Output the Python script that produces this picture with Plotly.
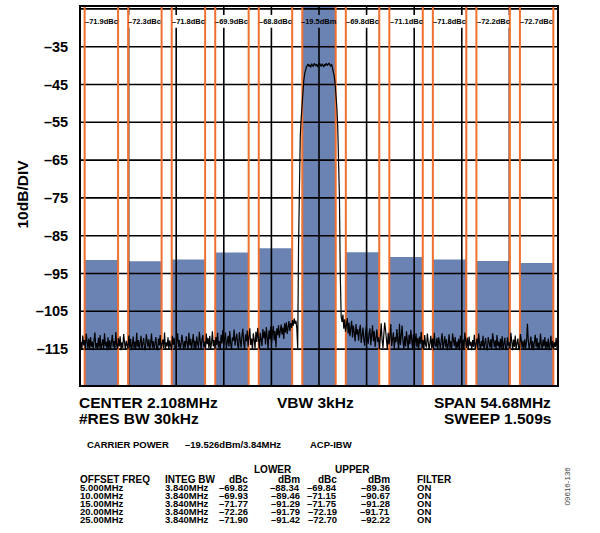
import numpy as np
import plotly.graph_objects as go

# ---------------- data ----------------
X_MIN, X_MAX = -27.34, 27.34          # offset from center 2.108 MHz, span 54.68 MHz
Y_MIN, Y_MAX = -124.5, -24.5          # dBm, 10 dB/div
X_DIV = 5.468

channel_offsets = [-25, -20, -15, -10, -5, 0, 5, 10, 15, 20, 25]
channel_bw = 3.84
channel_power_dbm = [-91.42, -91.79, -91.29, -89.46, -88.34, -19.526,
                     -89.36, -90.67, -91.28, -91.71, -92.22]
channel_labels = ["–71.9dBc", "–72.3dBc", "–71.8dBc", "–69.9dBc", "–68.8dBc", "–19.5dBm",
                  "–69.8dBc", "–71.1dBc", "–71.8dBc", "–72.2dBc", "–72.7dBc"]

y_tick_vals = [-35, -45, -55, -65, -75, -85, -95, -105, -115]
y_tick_text = ["–35", "–45", "–55", "–65", "–75", "–85", "–95", "–105", "–115"]
h_grid_vals = [-115, -105, -95, -85, -75, -65, -55, -45, -35, -25]

# spectrum trace (dBm), sweep points evenly spread over the span
trace_left = [
    -113.1, -115.2, -111.4, -114.0, -112.6, -115.3, -110.9, -113.8, -114.9, -112.2,
    -115.1, -111.8, -114.4, -113.0, -115.3, -112.5, -110.6, -114.7, -113.4, -115.0,
    -112.0, -114.6, -111.3, -115.2, -113.7, -112.4, -115.0, -110.8, -114.2, -113.1,
    -115.3, -111.9, -114.8, -112.7, -115.1, -113.5, -111.2, -114.5, -112.9, -115.2,
    -110.5, -113.9, -115.0, -112.1, -114.3, -111.6, -115.3, -113.2, -114.7, -111.0,
    -114.1, -115.2, -112.8, -113.6, -115.0, -111.4, -114.6, -112.3, -115.3, -113.9,
    -111.7, -114.9, -113.0, -115.1, -110.7, -114.4, -112.6, -115.2, -113.3, -111.5,
    -115.0, -113.8, -112.1, -114.8, -115.3, -111.1, -113.7, -114.5, -112.4, -115.1,
    -113.5, -110.9, -114.6, -112.9, -115.2, -113.0, -111.8, -114.9, -115.3, -112.2,
    -114.0, -111.3, -115.1, -113.6, -112.5, -114.7, -110.6, -115.0, -113.2, -114.3,
    -111.9, -115.2, -112.7, -114.1, -115.3, -111.5, -113.9, -112.0, -114.8, -115.1,
    -113.3, -110.8, -114.5, -112.6, -115.0, -113.8, -111.2, -114.2, -115.2, -112.9,
    -114.6, -111.6, -113.4, -115.1, -110.7, -114.0, -112.3, -115.2, -113.1, -111.0,
    -114.9, -112.8, -115.0, -111.7, -113.6, -114.7, -110.4, -113.2, -115.1, -112.4,
    -111.3, -114.5, -113.0, -115.2, -110.9, -113.7, -112.1, -114.8, -111.5, -115.0,
    -113.4, -110.3, -114.3, -112.6, -115.1, -111.8, -113.9, -110.7, -114.6, -112.9,
    -115.0, -111.2, -113.5, -109.9, -114.2, -112.4, -110.6, -114.9, -113.0, -111.5,
    -114.4, -110.2, -113.6, -115.0, -111.9, -112.8, -109.8, -114.1, -112.3, -110.9,
    -113.8, -115.1, -110.5, -112.7, -114.6, -111.4, -109.6, -113.3, -115.0, -111.1,
    -112.9, -110.1, -114.3, -111.7, -109.5, -113.9, -112.2, -115.2, -110.8, -112.5,
    -114.8, -110.4, -113.1, -109.4, -111.9, -115.1, -110.7, -112.6, -114.2, -109.7,
    -112.1, -110.3, -113.8, -109.2, -111.6, -114.9, -110.0, -112.4, -109.1, -113.5,
    -110.8, -108.9, -112.7, -110.2, -114.6, -109.5, -111.3, -108.7, -112.0, -110.4,
    -108.5, -111.1, -109.3, -112.3, -108.2, -110.6, -107.9, -111.0, -109.0, -107.6,
    -110.2, -108.1, -109.4, -107.3, -108.8, -106.9, -108.3, -107.5,
]
trace_carrier = [
    -109.5, -114.8, -88.0, -67.0, -58.5, -54.0, -50.0, -46.8, -44.0, -42.2,
    -41.0, -40.4, -40.0,
    -39.6, -40.2, -39.8, -40.5, -39.5, -39.9, -40.3, -39.4, -39.8, -40.1,
    -39.6, -40.4, -39.7, -39.3, -39.9, -40.2, -39.5, -39.8, -40.4, -39.6,
    -39.9, -39.4, -40.0, -39.7, -39.3, -39.8, -40.1, -39.6,
    -40.5, -41.3, -42.8, -44.8, -47.5, -51.0, -56.0, -63.0, -75.0, -96.0,
    -106.5,
]
trace_right = [
    -107.8, -105.9, -109.6, -107.1, -110.4, -108.3, -106.8, -110.9, -108.0, -111.6,
    -109.2, -107.5, -111.9, -108.8, -110.6, -113.0, -108.4, -111.2, -109.7, -112.8,
    -110.1, -108.6, -113.4, -111.0, -109.3, -112.5, -114.1, -110.5, -108.9, -112.2,
    -113.6, -110.8, -109.5, -114.0, -111.7, -108.7, -112.9, -110.2, -114.4, -111.3,
    -109.8, -113.1, -111.9, -115.0, -110.4, -108.2, -112.6, -114.7, -111.1, -108.0,
    -109.9, -112.3, -115.1, -110.7, -113.8, -111.5, -108.4, -114.2, -112.0, -110.6,
    -114.9, -111.8, -113.2, -109.7, -112.7, -115.2, -108.3, -113.9, -111.4, -108.8,
    -113.0, -115.0, -111.6, -114.3, -110.3, -112.9, -115.1, -111.2, -113.7, -109.9,
    -112.4, -114.8, -111.0, -115.3, -113.3, -110.8, -114.5, -112.1, -115.0, -111.7,
    -113.6, -110.5, -114.9, -112.6, -115.2, -111.3, -113.9, -114.6, -110.9, -112.8,
    -115.1, -113.4, -111.5, -114.7, -112.2, -115.3, -110.7, -113.8, -114.4, -112.0,
    -115.0, -111.9, -113.5, -114.9, -112.7, -110.8, -115.2, -113.2, -111.6, -114.5,
    -112.4, -115.3, -113.9, -111.1, -114.8, -112.9, -115.0, -110.9, -113.6, -114.2,
    -111.8, -115.1, -113.0, -114.6, -112.3, -115.3, -111.4, -113.7, -114.9, -112.5,
    -115.2, -110.6, -113.3, -114.7, -112.0, -115.0, -111.7, -114.1, -113.1, -115.3,
    -112.6, -114.4, -111.2, -115.1, -113.8, -112.2, -114.8, -110.9, -113.5, -115.0,
    -112.9, -114.3, -111.5, -115.2, -113.4, -112.1, -114.9, -115.3, -111.8, -113.7,
    -114.6, -112.4, -115.1, -110.8, -113.9, -114.5, -112.7, -115.0, -111.3, -114.2,
    -113.0, -115.3, -112.3, -114.7, -111.6, -115.1, -113.6, -112.0, -114.9, -115.2,
    -111.9, -114.1, -113.2, -115.0, -110.7, -113.8, -115.3, -112.5, -114.4, -111.4,
    -115.1, -113.5, -112.2, -114.8, -115.2, -111.0, -113.9, -114.6, -112.8, -115.0,
    -112.4, -114.7, -113.1, -108.3, -112.6, -115.1, -113.4, -111.7, -114.9, -112.9,
    -115.3, -113.7, -111.2, -114.5, -112.1, -115.0, -113.3, -114.8, -110.9, -113.6,
    -115.2, -112.5, -114.3, -111.8, -115.1, -113.0, -114.6, -112.2, -115.3, -113.9,
    -111.5, -114.7, -112.8, -115.0, -113.2, -114.4, -112.0, -114.9,
]

offset_freq = ["5.000MHz", "10.00MHz", "15.00MHz", "20.00MHz", "25.00MHz"]
integ_bw = ["3.840MHz", "3.840MHz", "3.840MHz", "3.840MHz", "3.840MHz"]
lower_dbc = ["–69.82", "–69.93", "–71.77", "–72.26", "–71.90"]
lower_dbm = ["–88.34", "–89.46", "–91.29", "–91.79", "–91.42"]
upper_dbc = ["–69.84", "–71.15", "–71.75", "–72.19", "–72.70"]
upper_dbm = ["–89.36", "–90.67", "–91.28", "–91.71", "–92.22"]
filter_state = ["ON", "ON", "ON", "ON", "ON"]

# ---------------- styling ----------------
W, H = 600, 533
ML, MR, MT, MB = 81, 43, 5, 148
PW, PH = W - ML - MR, H - MT - MB
FONT = "Liberation Sans, Arial, Helvetica, sans-serif"
BLUE = "#6A83B3"
ORANGE = "#F07030"
LABEL_GAP = (-30.0, -26.6)   # gap in vertical grid behind top labels


def px(x):
    return (x - ML) / PW


def py(y):
    return (H - MB - y) / PH


trace_dbm = trace_left + trace_carrier + trace_right
trace_x = np.linspace(X_MIN, X_MAX, len(trace_dbm))

fig = go.Figure()

# channel power bars
fig.add_trace(go.Bar(
    x=channel_offsets, y=[p - Y_MIN for p in channel_power_dbm], base=Y_MIN,
    width=channel_bw, marker=dict(color=BLUE, line=dict(width=0)), hoverinfo="skip"))

# grid (drawn over bars)
hx, hy = [], []
for v in h_grid_vals:
    hx += [X_MIN, X_MAX, None]
    hy += [v, v, None]
fig.add_trace(go.Scatter(x=hx, y=hy, mode="lines", line=dict(color="black", width=1.6),
                         hoverinfo="skip"))
vx, vy = [], []
for k in range(1, 10):
    g = X_MIN + k * X_DIV
    vx += [g, g, None, g, g, None]
    vy += [Y_MIN, LABEL_GAP[0], None, LABEL_GAP[1], Y_MAX, None]
fig.add_trace(go.Scatter(x=vx, y=vy, mode="lines", line=dict(color="black", width=1.6),
                         hoverinfo="skip"))

# channel edge markers
ox, oy = [], []
for c in channel_offsets:
    for e in (c - channel_bw / 2, c + channel_bw / 2):
        ox += [e, e, None]
        oy += [Y_MIN, Y_MAX, None]
fig.add_trace(go.Scatter(x=ox, y=oy, mode="lines", line=dict(color=ORANGE, width=2),
                         hoverinfo="skip"))

# spectrum trace
fig.add_trace(go.Scatter(x=trace_x, y=trace_dbm, mode="lines",
                         line=dict(color="black", width=1.2), hoverinfo="skip"))

ann = []
# top channel labels
for c, t in zip(channel_offsets, channel_labels):
    ann.append(dict(x=c, y=py(19.5), xref="x", yref="paper", text="<b>%s</b>" % t,
                    showarrow=False, xanchor="center", yanchor="middle",
                    font=dict(size=7.5, color="black", family=FONT)))


def txt(t, x, y, anchor="left", size=9.5, bold=True, color="black", angle=0):
    ann.append(dict(x=px(x), y=py(y), xref="paper", yref="paper",
                    text=("<b>%s</b>" % t) if bold else t, showarrow=False,
                    xanchor=anchor, yanchor="middle", borderpad=0, textangle=angle,
                    font=dict(size=size, color=color, family=FONT)))


txt("10dB/DIV", 22.5, 193, "center", size=15.5, angle=-90)

txt("CENTER 2.108MHz", 78, 403, "left", size=15.5)
txt("#RES BW 30kHz", 78, 419, "left", size=15.5)
txt("VBW 3kHz", 315, 403, "center", size=15.5)
txt("SPAN 54.68MHz", 552, 403, "right", size=15.5)
txt("SWEEP 1.509s", 552, 419, "right", size=15.5)

txt("CARRIER POWER", 86, 444.5, "left")
txt("–19.526dBm/3.84MHz", 184, 444.5, "left")
txt("ACP-IBW", 309, 444.5, "left")
txt("LOWER", 273, 470, "center", size=10)
txt("UPPER", 352, 470, "center", size=10)
txt("OFFSET FREQ", 79, 480, "left", size=10)
txt("INTEG BW", 164, 480, "left", size=10)
txt("dBc", 249, 480, "right", size=10)
txt("dBm", 301, 480, "right", size=10)
txt("dBc", 338, 480, "right", size=10)
txt("dBm", 391, 480, "right", size=10)
txt("FILTER", 416, 480, "left", size=10)
for k in range(len(offset_freq)):
    yy = 487.6 + 8.2 * k
    txt(offset_freq[k], 79, yy, "left")
    txt(integ_bw[k], 164, yy, "left")
    txt(lower_dbc[k], 249, yy, "right")
    txt(lower_dbm[k], 301, yy, "right")
    txt(upper_dbc[k], 338, yy, "right")
    txt(upper_dbm[k], 391, yy, "right")
    txt(filter_state[k], 416, yy, "left")

txt("09616-136", 567, 487, "center", size=8, bold=False, color="#444444", angle=-90)

fig.update_layout(
    width=W, height=H, margin=dict(l=ML, r=MR, t=MT, b=MB, pad=0),
    paper_bgcolor="white", plot_bgcolor="white", showlegend=False,
    font=dict(family=FONT, color="black"),
    annotations=ann,
    xaxis=dict(range=[X_MIN, X_MAX], showgrid=False, zeroline=False, showticklabels=False,
               ticks="", showline=True, mirror=True, linecolor="black", linewidth=2,
               fixedrange=True),
    yaxis=dict(range=[Y_MIN, Y_MAX], showgrid=False, zeroline=False,
               tickvals=y_tick_vals, ticktext=["<b>%s</b>" % t for t in y_tick_text],
               tickfont=dict(size=14.5, family=FONT, color="black"), ticks="",
               ticklabelstandoff=8,
               showline=True, mirror=True, linecolor="black", linewidth=2, fixedrange=True),
)

fig.write_html("out.html", config={"displayModeBar": False},
               post_script="document.body.style.margin='0';document.body.style.overflow='hidden';")
